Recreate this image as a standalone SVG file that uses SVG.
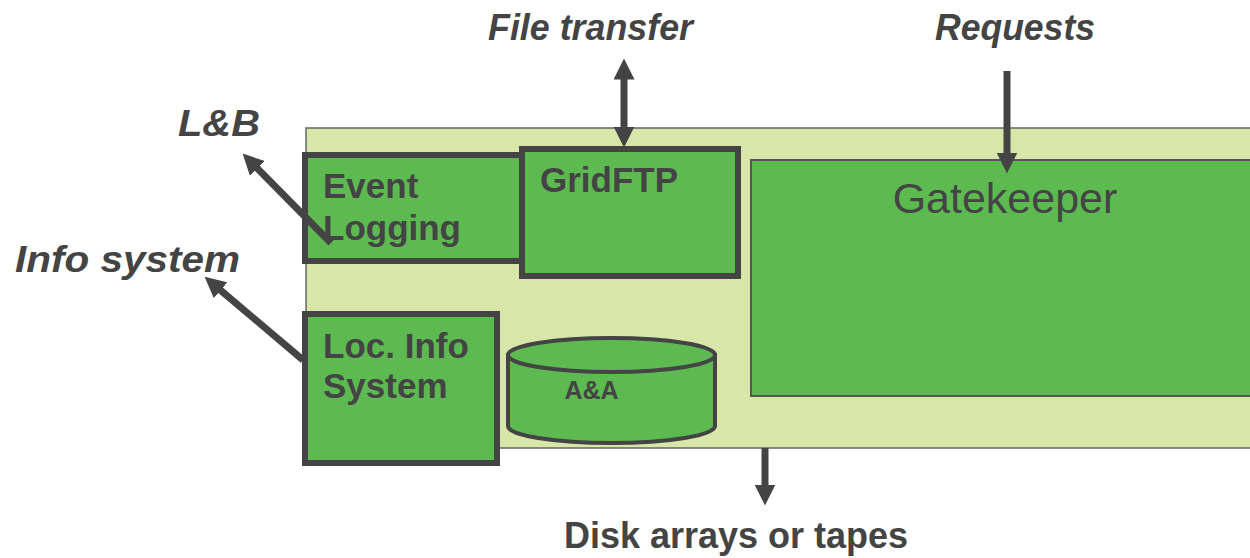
<svg xmlns="http://www.w3.org/2000/svg" width="1250" height="558" viewBox="0 0 1250 558">
<defs>
<style>
.lbl{font-family:"Liberation Sans",Arial,sans-serif;font-weight:bold;font-style:italic;fill:#444;font-size:36px}
.txt{font-family:"Liberation Sans",Arial,sans-serif;font-weight:bold;fill:#444;font-size:35px}
.box{fill:#5cba51;stroke:#444;stroke-width:6}
.conn{stroke:#444;stroke-width:7;fill:none}
</style>
<marker id="ah" viewBox="0 0 20 20" refX="10" refY="10" markerWidth="21" markerHeight="21" markerUnits="userSpaceOnUse" orient="auto-start-reverse">
<path d="M0,0 L20,10 L0,20 z" fill="#444"/>
</marker>
</defs>
<rect width="1250" height="558" fill="#fff"/>
<g id="container">
<rect x="306" y="128" width="960" height="320" fill="#d8e7a9" stroke="#666" stroke-width="1.5"/>
</g>
<g id="gatekeeper">
<rect x="751" y="160" width="520" height="236" fill="#5cba51" stroke="#555" stroke-width="2"/>
<text x="1005" y="213" text-anchor="middle" style="font-family:'Liberation Sans',Arial,sans-serif;font-size:43px;fill:#444">Gatekeeper</text>
</g>
<g id="event-logging">
<rect class="box" x="305" y="155" width="217" height="106"/>
<text class="txt" x="323" y="198">Event</text>
<text class="txt" x="323" y="240">Logging</text>
</g>
<g id="gridftp">
<rect class="box" x="522" y="149" width="216" height="127"/>
<text class="txt" x="540" y="192">GridFTP</text>
</g>
<g id="loc-info">
<rect class="box" x="305" y="314" width="192" height="149"/>
<text class="txt" x="323" y="358">Loc. Info</text>
<text class="txt" x="323" y="398">System</text>
</g>
<g id="aa">
<path d="M508,355 L508,426 A103.5,17 0 0 0 715,426 L715,355 Z" fill="#5cba51" stroke="#444" stroke-width="4"/>
<ellipse cx="611.5" cy="355" rx="103.5" ry="17" fill="#5cba51" stroke="#444" stroke-width="4"/>
<text x="591.5" y="399" text-anchor="middle" style="font-family:'Liberation Sans',Arial,sans-serif;font-weight:bold;font-size:25px;fill:#444">A&amp;A</text>
</g>
<g id="labels">
<text class="lbl" x="488" y="40" textLength="205" lengthAdjust="spacingAndGlyphs">File transfer</text>
<text class="lbl" x="935" y="40" textLength="160" lengthAdjust="spacingAndGlyphs">Requests</text>
<text class="lbl" x="178" y="136" textLength="82" lengthAdjust="spacingAndGlyphs">L&amp;B</text>
<text class="lbl" x="15" y="272" style="font-size:37px" textLength="225" lengthAdjust="spacingAndGlyphs">Info system</text>
<text class="txt" x="736" y="548" text-anchor="middle" style="font-size:36px">Disk arrays or tapes</text>
</g>
<g id="connectors">
<path class="conn" d="M624,69 L624,137" marker-start="url(#ah)" marker-end="url(#ah)"/>
<path class="conn" d="M1007,71 L1007,163" marker-end="url(#ah)"/>
<path class="conn" d="M765,448 L765,495" marker-end="url(#ah)"/>
<path class="conn" d="M331,243 L250,161" marker-end="url(#ah)"/>
<path class="conn" d="M303,360 L212.6,283.5" marker-end="url(#ah)"/>
</g>
</svg>
